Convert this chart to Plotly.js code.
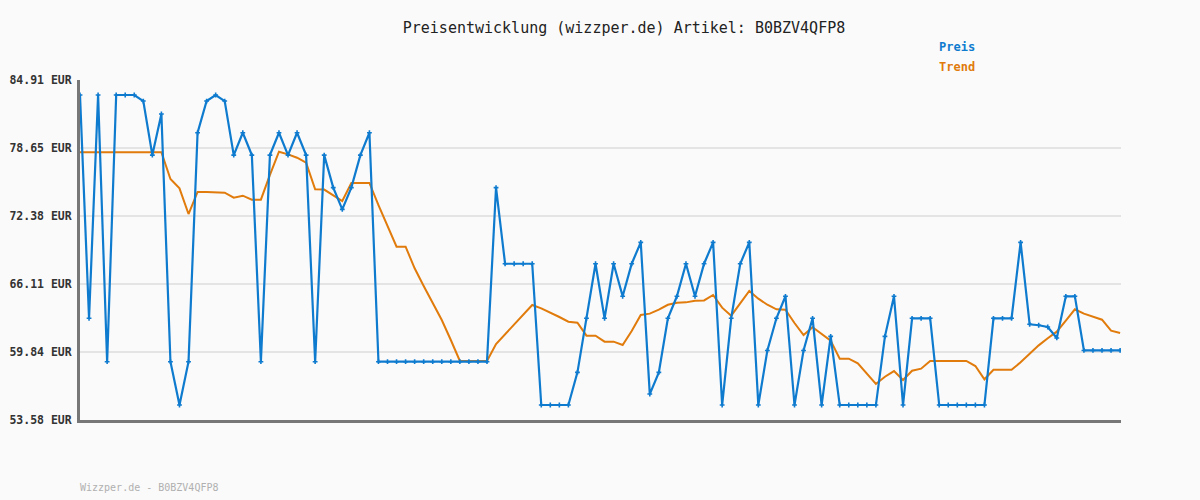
<!DOCTYPE html>
<html><head><meta charset="utf-8">
<script src="https://cdn.plot.ly/plotly-3.0.1.min.js"></script>
<style>html,body{margin:0;padding:0;background:#fafafa;}#chart{width:1200px;height:500px;}</style>
</head><body><div id="chart"></div>
<script>
const preis = [83.53,62.95,83.53,58.95,83.53,83.53,83.53,82.97,77.99,81.78,
58.95,54.96,58.95,80.05,82.97,83.53,82.97,77.99,80.05,77.99,
58.95,77.99,80.05,77.99,80.05,77.99,58.95,77.99,74.99,72.99,
74.99,77.99,80.05,58.95,58.95,58.95,58.95,58.95,58.95,58.95,
58.95,58.95,58.95,58.95,58.95,58.95,74.99,67.98,67.98,67.98,
67.98,54.96,54.96,54.96,54.96,57.97,62.95,67.98,62.95,67.98,
64.98,67.98,69.95,55.97,57.97,62.95,64.98,67.98,64.98,67.98,
69.95,54.96,62.95,67.98,69.95,54.96,59.99,62.95,64.98,54.96,
59.99,62.95,54.96,61.29,54.96,54.96,54.96,54.96,54.96,61.29,
64.98,54.96,62.95,62.95,62.95,54.96,54.96,54.96,54.96,54.96,
54.96,62.95,62.95,62.95,69.95,62.40,62.31,62.15,61.14,64.98,
64.98,59.99,59.99,59.99,59.99,59.99];
const trend = [78.25,78.25,78.25,78.25,78.25,78.25,78.25,78.25,78.25,78.25,
75.79,74.93,72.56,74.59,74.59,74.59,74.53,74.07,74.25,73.88,
73.88,76.16,78.30,78.06,77.75,77.29,74.84,74.81,74.25,73.76,
75.42,75.42,75.42,73.39,71.39,69.55,69.55,67.56,65.93,64.42,
62.79,60.95,59.02,59.02,59.02,59.02,60.58,61.47,62.40,63.32,
64.18,63.87,63.50,63.07,62.64,62.55,61.35,61.35,60.80,60.80,
60.49,61.78,63.26,63.38,63.75,64.20,64.39,64.42,64.57,64.60,
65.10,63.93,63.19,64.33,65.47,64.76,64.20,63.78,63.75,62.52,
61.41,62.12,61.50,60.89,59.23,59.23,58.80,57.88,56.90,57.57,
58.09,57.27,58.12,58.31,59.02,59.02,59.02,59.02,59.02,58.55,
57.33,58.21,58.21,58.21,58.90,59.66,60.46,61.11,61.72,62.73,
63.78,63.38,63.10,62.82,61.81,61.60];
const tickValues = [53.58,59.84,66.11,72.38,78.65,84.91];
const tickLabels = tickValues.map(v => v.toFixed(2) + " EUR");
const xs = preis.map((_, i) => i);

const mono = "'DejaVu Sans Mono', 'Liberation Mono', monospace";
const blue = '#0f7bcf', orange = '#e07b0c';
const data = [
  {x: xs, y: trend, type: 'scatter', mode: 'lines', name: 'Trend',
   line: {color: orange, width: 2}},
  {x: xs, y: preis, type: 'scatter', mode: 'lines+markers', name: 'Preis',
   line: {color: blue, width: 2.2}, marker: {symbol: 'cross', size: 4, color: blue}}
];
const layout = {
  width: 1200, height: 500,
  paper_bgcolor: '#fafafa', plot_bgcolor: '#fafafa',
  margin: {l: 80, r: 79, t: 80, b: 80},
  showlegend: false,
  title: {text: 'Preisentwicklung (wizzper.de) Artikel: B0BZV4QFP8', x: 0.52, xanchor: 'center', y: 0.945, yanchor: 'middle',
          font: {family: mono, size: 15, color: '#222'}},
  xaxis: {range: [0, 115.1], showticklabels: false, ticks: '', showgrid: false, zeroline: false,
          showline: true, linecolor: '#777', linewidth: 3},
  yaxis: {range: [53.58, 84.91], tickvals: tickValues, ticktext: tickLabels, showgrid: true,
          gridcolor: '#e4e4e4', gridwidth: 2, zeroline: false, showline: true, linecolor: '#777', linewidth: 3,
          ticks: '', ticklabelstandoff: 3, tickfont: {family: mono, size: 11.5, color: '#333', weight: 'bold'}},
  annotations: [
    {xref: 'paper', yref: 'paper', x: (937-80)/1041, y: (420-47)/340, xanchor: 'left', yanchor: 'middle', showarrow: false,
     text: '<b>Preis</b>', font: {family: mono, size: 12, color: blue}},
    {xref: 'paper', yref: 'paper', x: (937-80)/1041, y: (420-67)/340, xanchor: 'left', yanchor: 'middle', showarrow: false,
     text: '<b>Trend</b>', font: {family: mono, size: 12, color: orange}},
    {xref: 'paper', yref: 'paper', x: -2/1041, y: (420-487)/340, xanchor: 'left', yanchor: 'middle', showarrow: false,
     text: 'Wizzper.de - B0BZV4QFP8', font: {family: mono, size: 10, color: '#b0b0b0'}}
  ]
};
Plotly.newPlot('chart', data, layout, {displayModeBar: false, staticPlot: true});
</script></body></html>
